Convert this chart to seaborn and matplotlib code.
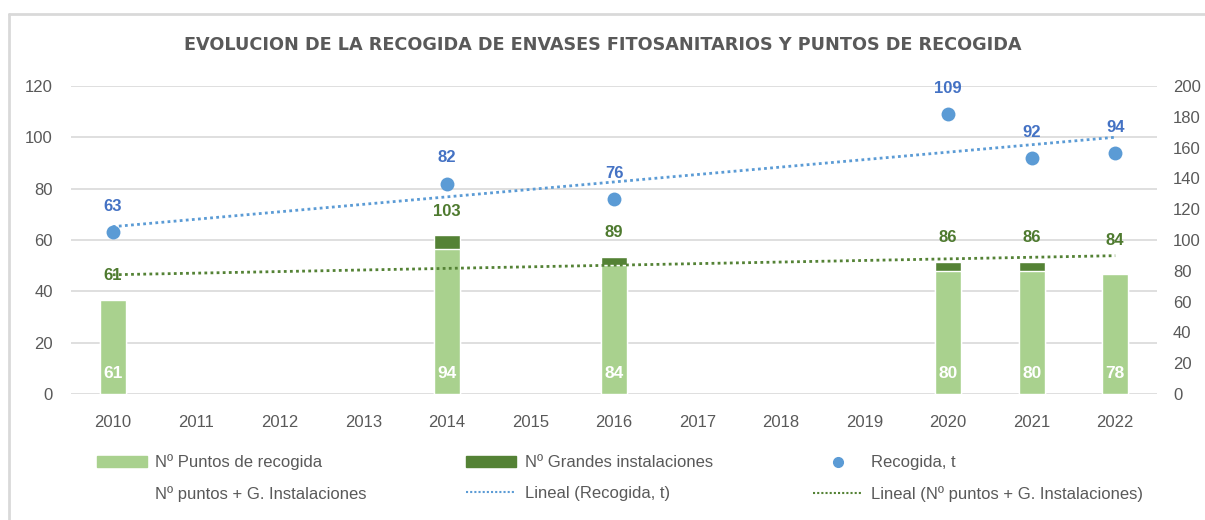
import numpy as np
import pandas as pd
import matplotlib.pyplot as plt
from matplotlib.lines import Line2D
from matplotlib.patches import Patch
import seaborn as sns

years = [str(y) for y in range(2010, 2023)]
data_years = ['2010', '2014', '2016', '2020', '2021', '2022']
puntos = [61, 94, 84, 80, 80, 78]
grandes = [0, 9, 5, 6, 6, 0]
total_label = [61, 103, 89, 86, 86, 84]
recogida = [63, 82, 76, 109, 92, 94]

df = pd.DataFrame({'year': data_years, 'puntos': puntos, 'grandes': grandes,
                   'total': total_label, 'recogida': recogida})
df['apilado'] = df['puntos'] + df['grandes']

light_green = '#A9D18E'
dark_green = '#548235'
lbl_green = '#4E7A2F'
blue = '#5B9BD5'
lbl_blue = '#4472C4'
grey = '#595959'

sns.set_theme(style='white')
plt.rcParams['font.family'] = ['Liberation Sans', 'DejaVu Sans']

fig = plt.figure(figsize=(12.05, 5.2), dpi=100)
ax = fig.add_axes([71 / 1205, 1 - 394 / 520, (1157 - 71) / 1205, (394 - 86) / 520])
ax2 = ax.twinx()

# bars on the secondary axis (stacked: dark total underneath, light on top)
sns.barplot(data=df, x='year', y='apilado', order=years, color=dark_green,
            width=0.31, saturation=1, ax=ax2, zorder=2)
sns.barplot(data=df, x='year', y='puntos', order=years, color=light_green,
            width=0.31, saturation=1, ax=ax2, zorder=3)

# scatter on the primary axis
sns.stripplot(data=df, x='year', y='recogida', order=years, jitter=False,
              color=blue, size=10, linewidth=0, ax=ax, zorder=4)

pos = np.array([years.index(y) for y in data_years])
xs = np.arange(len(years))

# linear trendlines (fit on category index, as the spreadsheet does)
k, b = np.polyfit(pos + 1, recogida, 1)
ax.plot(xs, k * (xs + 1) + b, linestyle=(0, (1, 1.2)), color=blue, lw=2, zorder=3)
k2, b2 = np.polyfit(pos + 1, total_label, 1)
ax2.plot(xs, k2 * (xs + 1) + b2, linestyle=(0, (1, 1.2)), color=dark_green, lw=2, zorder=5)

ax.set_ylim(0, 120)
ax.set_yticks(range(0, 121, 20))
ax2.set_ylim(0, 200)
ax2.set_yticks(range(0, 201, 20))
ax.set_xlim(-0.5, 12.5)
ax.set_xticks(xs)
ax.set_xticklabels(years)
ax.grid(axis='y', color='#D9D9D9', lw=1.2)
ax.set_axisbelow(True)
ax2.grid(False)
for a in (ax, ax2):
    for s in a.spines.values():
        s.set_visible(False)
    a.tick_params(length=0, colors=grey, labelsize=12)
    a.set_xlabel('')
    a.set_ylabel('')
ax.tick_params(axis='y', pad=13)
ax.tick_params(axis='x', pad=15)
ax2.tick_params(axis='y', pad=11.5)

# data labels
for p, v in zip(pos, recogida):
    ax.annotate(str(v), (p, v), xytext=(0, 13), textcoords='offset points',
                ha='center', va='bottom', color=lbl_blue, fontsize=12, fontweight='bold')
for p, v in zip(pos, total_label):
    ax2.annotate(str(v), (p, v), xytext=(0, 12), textcoords='offset points',
                 ha='center', va='bottom', color=lbl_green, fontsize=12, fontweight='bold', zorder=6)
for p, v in zip(pos, puntos):
    ax2.annotate(str(v), (p, 0), xytext=(0, 15), textcoords='offset points',
                 ha='center', va='center', color='white', fontsize=12.5, fontweight='bold', zorder=6)

fig.text(0.5, 1 - 45 / 520, 'EVOLUCION DE LA RECOGIDA DE ENVASES FITOSANITARIOS Y PUNTOS DE RECOGIDA',
         ha='center', va='center', fontsize=12.7, fontweight='bold', color=grey,
         family=['DejaVu Sans'])

# chart border
fig.add_artist(Line2D([9 / 1205, 9 / 1205], [0, 1 - 14 / 520], transform=fig.transFigure,
                      color='#D9D9D9', lw=2))
fig.add_artist(Line2D([9 / 1205, 1], [1 - 14 / 520, 1 - 14 / 520], transform=fig.transFigure,
                      color='#D9D9D9', lw=2))

h_p = Patch(color=light_green, label='Nº Puntos de recogida')
h_g = Patch(color=dark_green, label='Nº Grandes instalaciones')
h_r = Line2D([], [], marker='o', color=blue, linestyle='none', markersize=7, label='Recogida, t')
h_t = Line2D([], [], linestyle='none', label='Nº puntos + G. Instalaciones')
h_lr = Line2D([], [], linestyle=(0, (1, 1)), color=blue, lw=1.5, label='Lineal (Recogida, t)')
h_lt = Line2D([], [], linestyle=(0, (1, 1)), color=dark_green, lw=1.5,
              label='Lineal (Nº puntos + G. Instalaciones)')
handles = [h_p, h_t, h_g, h_lr, h_r, h_lt]
leg = fig.legend(handles=handles, labels=[h.get_label() for h in handles], ncol=3,
                 loc='center', bbox_to_anchor=(0.5145, 1 - 478 / 520), frameon=False,
                 fontsize=12, handlelength=3.0, handleheight=0.6, columnspacing=6.0,
                 labelspacing=0.95, handletextpad=0.5)
for t in leg.get_texts():
    t.set_color(grey)

fig.savefig('out.png', dpi=100)
